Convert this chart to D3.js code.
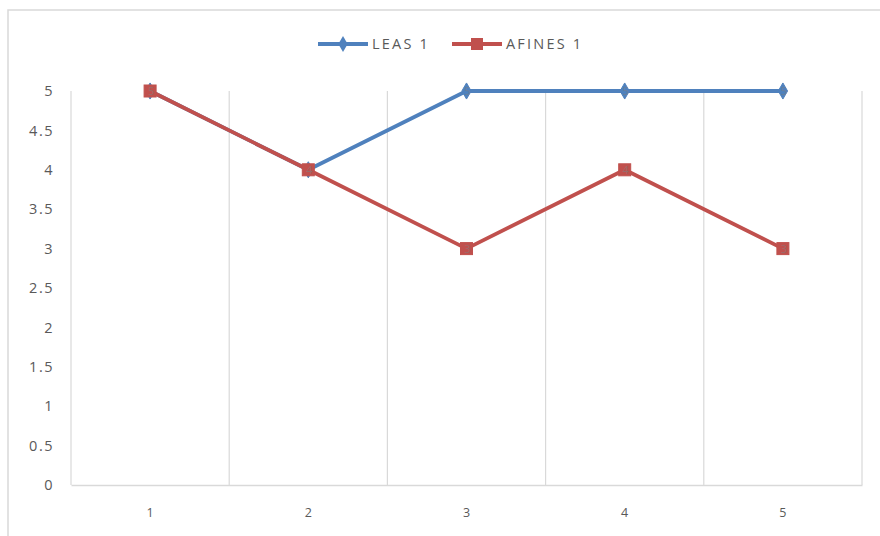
<!DOCTYPE html>
<html>
<head>
<meta charset="utf-8">
<script src="https://cdn.jsdelivr.net/npm/d3@7"></script>
<style>
  html, body { margin: 0; padding: 0; background: #fff; }
  svg { display: block; font-family: "Open Sans", "Liberation Sans", sans-serif; }
</style>
</head>
<body>
<svg id="chart" width="880" height="536"></svg>
<script>
// Categories and series
const categories = ["1", "2", "3", "4", "5"];
const leasValues = [5, 4, 5, 5, 5];
const afinesValues = [5, 4, 3, 4, 3];
const yTicks = [0, 0.5, 1, 1.5, 2, 2.5, 3, 3.5, 4, 4.5, 5];
const seriesNames = ["LEAS 1", "AFINES 1"];

const series = [
  { name: seriesNames[0], values: leasValues, color: "#4F81BD", marker: "diamond" },
  { name: seriesNames[1], values: afinesValues, color: "#C0504D", marker: "square" }
];

const svg = d3.select("#chart");
const plot = { left: 71, right: 862, top: 91, bottom: 485 };
const gridColor = "#d9d9d9";
const textColor = "#595959";
const fontFamily = "'Open Sans', 'Liberation Sans', sans-serif";

// Outer chart frame
svg.append("rect")
  .attr("x", 8).attr("y", 10)
  .attr("width", 900).attr("height", 560)
  .attr("fill", "none").attr("stroke", gridColor).attr("stroke-width", 1.5);

const x = d3.scaleBand().domain(categories).range([plot.left, plot.right]);
const y = d3.scaleLinear().domain([0, 5]).range([plot.bottom, plot.top]);
const cx = c => x(c) + x.bandwidth() / 2;

// Vertical gridlines at category boundaries
const bounds = categories.map(c => x(c)).concat([plot.right]);
svg.append("g").selectAll("line").data(bounds).join("line")
  .attr("x1", d => d).attr("x2", d => d)
  .attr("y1", plot.top).attr("y2", plot.bottom)
  .attr("stroke", gridColor).attr("stroke-width", 1.2);

// Category axis
const xAxis = d3.axisBottom(x).tickSize(0).tickPadding(23);
const gx = svg.append("g").attr("transform", `translate(0,${plot.bottom})`).call(xAxis);
gx.select(".domain").attr("stroke", gridColor).attr("stroke-width", 1.5);
gx.selectAll("text").attr("fill", textColor).attr("font-size", 12.5)
  .attr("font-family", fontFamily);

// Value axis labels (no axis line)
const yAxis = d3.axisLeft(y).tickValues(yTicks).tickSize(0).tickPadding(17)
  .tickFormat(d => String(d));
const gy = svg.append("g").attr("transform", `translate(${plot.left},0)`).call(yAxis);
gy.select(".domain").remove();
gy.selectAll("text").attr("fill", textColor).attr("font-size", 14.5)
  .attr("letter-spacing", 1.5)
  .attr("font-family", fontFamily);

// Lines and markers
const line = d3.line().x((d, i) => cx(categories[i])).y(d => y(d));
const diamond = d3.symbol().type(d3.symbolDiamond).size(75);

series.forEach(s => {
  const g = svg.append("g");
  g.append("path").datum(s.values)
    .attr("d", line).attr("fill", "none")
    .attr("stroke", s.color).attr("stroke-width", 3.8)
    .attr("stroke-linejoin", "round");
  if (s.marker === "diamond") {
    g.selectAll("path.m").data(s.values).join("path").attr("class", "m")
      .attr("d", diamond)
      .attr("transform", (d, i) => `translate(${cx(categories[i])},${y(d)})`)
      .attr("fill", s.color).attr("stroke", s.color);
  } else {
    g.selectAll("rect.m").data(s.values).join("rect").attr("class", "m")
      .attr("x", (d, i) => cx(categories[i]) - 6)
      .attr("y", d => y(d) - 6)
      .attr("width", 12).attr("height", 12)
      .attr("fill", s.color).attr("stroke", s.color);
  }
  // Faint value labels centred on the points
  g.selectAll("text").data(s.values).join("text")
    .attr("x", (d, i) => cx(categories[i]) + 1)
    .attr("y", d => y(d) + 4)
    .attr("text-anchor", "middle")
    .attr("font-size", 11)
    .attr("fill", "#7f7f7f").attr("opacity", 0.55)
    .text(d => d);
});

// Legend
const legend = [
  { s: series[0], x0: 318 },
  { s: series[1], x0: 452 }
];
legend.forEach(({ s, x0 }) => {
  const ly = 44;
  const g = svg.append("g");
  g.append("line").attr("x1", x0).attr("x2", x0 + 50).attr("y1", ly).attr("y2", ly)
    .attr("stroke", s.color).attr("stroke-width", 3.8);
  if (s.marker === "diamond") {
    g.append("path").attr("d", diamond).attr("transform", `translate(${x0 + 25},${ly})`)
      .attr("fill", s.color);
  } else {
    g.append("rect").attr("x", x0 + 19).attr("y", ly - 6).attr("width", 12).attr("height", 12)
      .attr("fill", s.color);
  }
  g.append("text").attr("x", x0 + 54).attr("y", ly + 5)
    .attr("fill", textColor).attr("font-size", 14.5)
    .attr("letter-spacing", 2.2)
    .text(s.name);
});
</script>
</body>
</html>
